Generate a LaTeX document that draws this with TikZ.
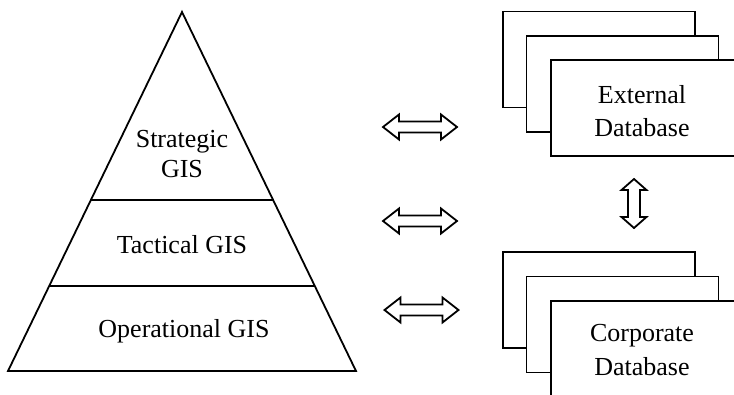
\documentclass[tikz,border=0pt]{standalone}
\usepackage{fontspec}
\setmainfont{Liberation Serif}
\usetikzlibrary{calc}
\begin{document}
\begin{tikzpicture}[x=1pt,y=-1pt,
  outline/.style={line width=1.8pt, line join=miter},
  tiertext/.style={font=\fontsize{26}{30}\selectfont, align=center, inner sep=0pt},
  sheet/.style={draw, line width=1.8pt, fill=white, minimum width=192pt,
                minimum height=96pt, inner sep=0pt},
  arrowline/.style={line width=1.8pt, line join=miter, fill=white},
  pics/dblarrow/.style n args={4}{code={
    % #1 length, #2 head length, #3 head half-width, #4 shaft half-width
    \draw[arrowline] ({-#1/2},0) -- ({-#1/2+#2},{#3}) -- ({-#1/2+#2},{#4})
      -- ({#1/2-#2},{#4}) -- ({#1/2-#2},{#3}) -- ({#1/2},0)
      -- ({#1/2-#2},{-#3}) -- ({#1/2-#2},{-#4}) -- ({-#1/2+#2},{-#4})
      -- ({-#1/2+#2},{-#3}) -- cycle;
  }}
]
\useasboundingbox (0,0) rectangle (734,394);

% pyramid of GIS levels
\coordinate (apex) at (182,12);
\coordinate (bl) at (8,371);
\coordinate (br) at (356,371);
\draw[outline] (apex) -- (br) -- (bl) -- cycle;
\draw[outline] ($(apex)!{188/359}!(bl)$) -- ($(apex)!{188/359}!(br)$);
\draw[outline] ($(apex)!{274/359}!(bl)$) -- ($(apex)!{274/359}!(br)$);

\node[tiertext] (strategic) at (182,154.5) {Strategic\\GIS};
\node[tiertext] (tactical) at (182,245) {Tactical GIS};
\node[tiertext] (operational) at (184,331.5) {Operational GIS};

% external database stack
\node[sheet] (ext3) at (599,59.5) {};
\node[sheet] (ext2) at (622.5,84) {};
\node[sheet] (ext1) at (647,108) {};
\node[tiertext, font=\fontsize{26}{33.5}\selectfont] (extText) at (642,111) {External\\Database};

% corporate database stack
\node[sheet] (corp3) at (599,300) {};
\node[sheet] (corp2) at (622.5,324.5) {};
\node[sheet] (corp1) at (647,349) {};
\node[tiertext, font=\fontsize{26}{33.5}\selectfont] (corpText) at (642,350) {Corporate\\Database};

% two-way exchange arrows
\pic (linkStrategic) at (420,127) {dblarrow={74}{16}{12.5}{5.5}};
\pic (linkTactical) at (420,221) {dblarrow={74}{16}{12.5}{5.5}};
\pic (linkOperational) at (421.5,310) {dblarrow={74}{16}{12.5}{5.5}};
\pic[rotate=90] (linkDatabases) at (634,203.5) {dblarrow={49}{11}{12.5}{6}};
\end{tikzpicture}
\end{document}
